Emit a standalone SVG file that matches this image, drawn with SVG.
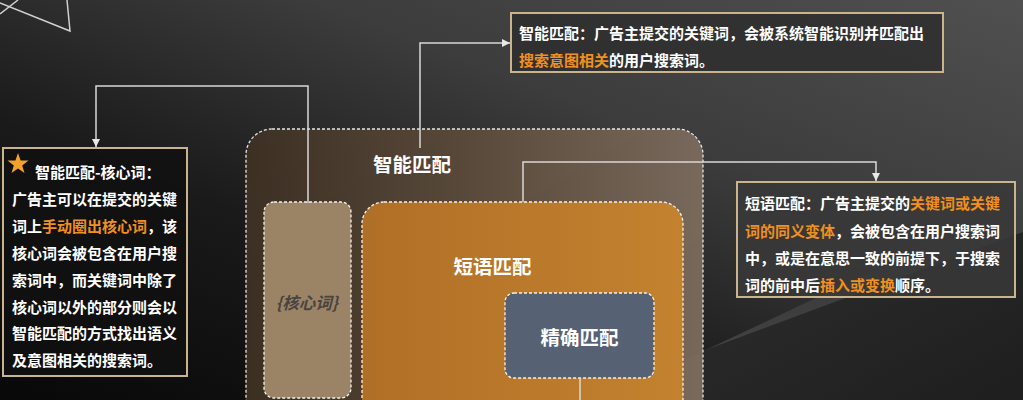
<svg xmlns="http://www.w3.org/2000/svg" width="1023" height="400" viewBox="0 0 1023 400">
<defs>
<linearGradient id="bg" x1="0" y1="1" x2="1" y2="0">
<stop offset="0" stop-color="#080808"/>
<stop offset="0.35" stop-color="#1a1a1a"/>
<stop offset="0.65" stop-color="#3c3c3c"/>
<stop offset="1" stop-color="#505050"/>
</linearGradient>
<linearGradient id="shade" x1="0" y1="0" x2="1" y2="1">
<stop offset="0" stop-color="#2e2e2e"/>
<stop offset="1" stop-color="#1e1e1e"/>
</linearGradient>
<linearGradient id="band" x1="0" y1="1" x2="0.3" y2="0">
<stop offset="0" stop-color="#5e5e5e" stop-opacity="0.8"/>
<stop offset="1" stop-color="#5e5e5e" stop-opacity="0"/>
</linearGradient>
<linearGradient id="bigfill" x1="0" y1="0" x2="1" y2="0">
<stop offset="0" stop-color="#3e3124"/>
<stop offset="0.5" stop-color="#5c4c3c"/>
<stop offset="1" stop-color="#7c6c5e"/>
</linearGradient>
<linearGradient id="phrasefill" x1="0" y1="0" x2="1" y2="0">
<stop offset="0" stop-color="#b06f26"/>
<stop offset="1" stop-color="#c3822f"/>
</linearGradient>
<marker id="arr" viewBox="0 0 10 10" refX="10" refY="5" markerWidth="8" markerHeight="8" markerUnits="userSpaceOnUse" orient="auto">
<path d="M0,0 L10,5 L0,10 z" fill="#e8e8e8"/>
</marker>
<style>
.conn{fill:none;stroke:#d8d8d8;stroke-width:1.5}
.dash{stroke:#f2f2f2;stroke-width:1.3;stroke-dasharray:3 2}
.tbox{stroke:#c9b48e;stroke-width:2}
.t{font-family:"Noto Sans CJK SC","Microsoft YaHei",sans-serif;font-weight:bold;font-size:15px;fill:#ffffff}
.o{fill:#f0901e}
.big{font-family:"Noto Sans CJK SC","Microsoft YaHei",sans-serif;font-weight:bold;font-size:19.5px;fill:#ffffff}
</style>
</defs>
<rect x="0" y="0" width="1023" height="400" fill="url(#bg)"/>
<polygon points="600,400 1023,200 1023,400" fill="url(#band)"/>
<polygon points="700,352 1023,232 1023,400 700,400" fill="url(#shade)"/>
<g fill="none" stroke="#cfcfcf" stroke-width="1.5">
<polyline points="0,3 70,31 67,0"/>
<line x1="0" y1="14" x2="18" y2="0"/>
</g>

<g id="smart-match">
<rect x="246" y="129" width="457" height="300" rx="26" fill="url(#bigfill)" opacity="0.95" class="dash"/>
<text class="big" x="412" y="172" text-anchor="middle">智能匹配</text>
</g>
<g id="core-word">
<rect x="264" y="202" width="87" height="196" rx="10" fill="#9b8365" class="dash"/>
<text x="307" y="309" text-anchor="middle" font-family="'Noto Sans CJK SC',sans-serif" font-style="italic" font-weight="bold" font-size="16.5" fill="#4a4440">{核心词}</text>
</g>
<g id="phrase-match">
<rect x="362" y="202" width="321" height="230" rx="22" fill="url(#phrasefill)" class="dash"/>
<text class="big" x="492.5" y="274" text-anchor="middle">短语匹配</text>
</g>
<g id="exact-match">
<rect x="505" y="293" width="149" height="85" rx="9" fill="#566273" class="dash"/>
<text class="big" x="579.5" y="345" text-anchor="middle">精确匹配</text>
</g>

<g id="connectors">
<polyline class="conn" points="308,203 308,86 96,86 96,147" marker-end="url(#arr)"/>
<polyline class="conn" points="420,148 420,43 510,43" marker-end="url(#arr)"/>
<polyline class="conn" points="523,202 523,162 876,162 876,181" marker-end="url(#arr)"/>
<line class="conn" x1="580" y1="378" x2="580" y2="400"/>
</g>

<g id="core-note">
<rect x="3" y="148" width="184" height="228" fill="#111111" fill-opacity="0.85" class="tbox"/>
<polygon points="18,153 20.6,160.4 28.5,160.6 22.2,165.4 24.5,173 18,168.5 11.5,173 13.8,165.4 7.5,160.6 15.4,160.4" fill="#f2a12a"/>
<text class="t" x="35" y="177.5">智能匹配-核心词：</text>
<text class="t" x="12" y="204.5">广告主可以在提交的关键</text>
<text class="t" x="12" y="231.5">词上<tspan class="o">手动圈出核心词</tspan>，该</text>
<text class="t" x="12" y="258.5">核心词会被包含在用户搜</text>
<text class="t" x="12" y="285.5">索词中，而关键词中除了</text>
<text class="t" x="12" y="312.5">核心词以外的部分则会以</text>
<text class="t" x="12" y="339">智能匹配的方式找出语义</text>
<text class="t" x="12" y="365.5">及意图相关的搜索词。</text>
</g>
<g id="smart-note">
<rect x="511" y="13" width="432" height="59" fill="#2e2e2e" fill-opacity="0.85" class="tbox"/>
<text class="t" x="519" y="38.5">智能匹配：广告主提交的关键词，会被系统智能识别并匹配出</text>
<text class="t" x="519" y="65.5"><tspan class="o">搜索意图相关</tspan>的用户搜索词。</text>
</g>
<g id="phrase-note">
<rect x="737" y="182" width="278" height="115" fill="#383838" fill-opacity="0.85" class="tbox"/>
<text class="t" x="745" y="208.5">短语匹配：广告主提交的<tspan class="o">关键词或关键</tspan></text>
<text class="t" x="745" y="236.5"><tspan class="o">词的同义变体</tspan>，会被包含在用户搜索词</text>
<text class="t" x="745" y="263.5">中，或是在意思一致的前提下，于搜索</text>
<text class="t" x="745" y="290.5">词的前中后<tspan class="o">插入或变换</tspan>顺序。</text>
</g>
</svg>
